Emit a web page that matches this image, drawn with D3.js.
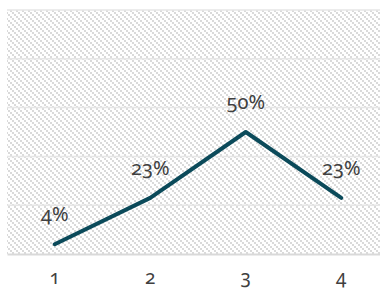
<!DOCTYPE html>
<html>
<head>
<meta charset="utf-8">
<script src="https://cdn.jsdelivr.net/npm/d3@7"></script>
<style>
  body { margin: 0; background: #fff; }
  svg text { font-family: "Noto Sans", sans-serif; font-variant-numeric: oldstyle-nums; fill: #404040; }
</style>
</head>
<body>
<svg id="chart" width="380" height="288"></svg>
<script>
var categories = ["1", "2", "3", "4"];
var values = [4, 23, 50, 23];
var yTicks = [0, 20, 40, 60, 80, 100];

var svg = d3.select("#chart");
var plot = {left: 7, right: 389, top: 10, bottom: 254};

var x = d3.scaleBand()
    .domain(categories)
    .range([plot.left, plot.right]);

var y = d3.scaleLinear()
    .domain([0, 100])
    .range([plot.bottom, plot.top]);

// hatch fill, small squares stepping down-right
var pat = svg.append("defs").append("pattern")
    .attr("id", "hatch")
    .attr("patternUnits", "userSpaceOnUse")
    .attr("width", 6)
    .attr("height", 6);
[0, 2, 4].forEach(function(o) {
    pat.append("rect").attr("x", o).attr("y", o).attr("width", 2).attr("height", 2).attr("fill", "#dadada");
});

svg.append("rect")
    .attr("x", plot.left)
    .attr("y", plot.top)
    .attr("width", plot.right - plot.left)
    .attr("height", plot.bottom - plot.top)
    .attr("fill", "url(#hatch)");

svg.selectAll(".grid")
    .data(yTicks.slice(1))
    .enter()
    .append("line")
    .classed("grid", true)
    .attr("x1", plot.left)
    .attr("x2", plot.right)
    .attr("y1", function(d) { return y(d); })
    .attr("y2", function(d) { return y(d); })
    .attr("stroke", "#e6e6e6")
    .attr("stroke-width", 1.5);

var xAxis = d3.axisBottom(x).tickSize(0).tickPadding(17);
var gx = svg.append("g")
    .attr("transform", "translate(0," + plot.bottom + ")")
    .call(xAxis);
gx.select(".domain").attr("stroke", "#d9d9d9").attr("stroke-width", 2);
gx.selectAll("text").style("font-size", "19px").attr("fill", "#404040");

var line = d3.line()
    .x(function(d, i) { return x(categories[i]) + x.bandwidth() / 2; })
    .y(function(d) { return y(d); });

svg.append("path")
    .datum(values)
    .attr("d", line)
    .attr("fill", "none")
    .attr("stroke", "#0b4a5a")
    .attr("stroke-width", 4)
    .attr("stroke-linejoin", "round")
    .attr("stroke-linecap", "round");

svg.selectAll(".lbl")
    .data(values)
    .enter()
    .append("text")
    .classed("lbl", true)
    .attr("text-anchor", "middle")
    .attr("x", function(d, i) { return x(categories[i]) + x.bandwidth() / 2; })
    .attr("y", function(d) { return y(d) - 23; })
    .style("font-size", "20px")
    .text(function(d) { return d + "%"; });
</script>
</body>
</html>
